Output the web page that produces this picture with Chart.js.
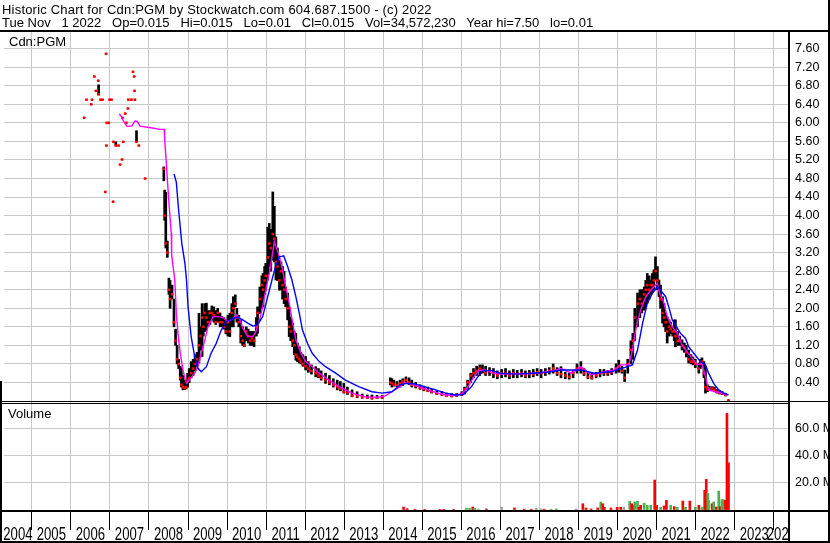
<!DOCTYPE html>
<html>
<head>
<meta charset="utf-8">
<script src="https://cdn.jsdelivr.net/npm/chart.js@4"></script>
<style>
  html, body { margin: 0; padding: 0; background: #fff; }
  #wrap { position: relative; width: 830px; height: 543px; }
  #hdr {
    position: absolute; left: 2px; top: 2.5px; z-index: 2;
    font: 13px "Liberation Sans", Arial, sans-serif; line-height: 13.5px;
    white-space: pre; color: #000;
  }
  #hdr .l1 { letter-spacing: 0.2px; }
  canvas { position: absolute; left: 0; top: 0; }
</style>
</head>
<body>
<div id="wrap">
<div id="hdr"><span class="l1">Historic Chart for Cdn:PGM by Stockwatch.com 604.687.1500 - (c) 2022</span>
Tue Nov   1 2022   Op=0.015   Hi=0.015   Lo=0.01   Cl=0.015   Vol=34,572,230   Year hi=7.50   lo=0.01</div>
<canvas id="chart" width="830" height="543"></canvas>
</div>
<script>
// year ticks along the bottom
const yearTicks = [2004, 2005, 2006, 2007, 2008, 2009, 2010, 2011, 2012, 2013, 2014,
  2015, 2016, 2017, 2018, 2019, 2020, 2021, 2022, 2023, 2024];

// daily-ish price bars (dates as decimal years)
const priceDates = [
  2006.34, 2006.40, 2006.52, 2006.54, 2006.60, 2006.64, 2006.70, 2006.71, 2006.76, 2006.81,
  2006.88, 2006.90, 2006.91, 2006.92, 2006.97, 2006.99, 2007.04, 2007.08, 2007.09, 2007.15,
  2007.22, 2007.26, 2007.31, 2007.32, 2007.34, 2007.39, 2007.42, 2007.46, 2007.47, 2007.55,
  2007.59, 2007.62, 2007.63, 2007.64, 2007.68, 2007.74, 2007.90,
  2008.38, 2008.40, 2008.43, 2008.47, 2008.51, 2008.54, 2008.59, 2008.64, 2008.68, 2008.72,
  2008.76, 2008.80, 2008.83, 2008.87, 2008.91, 2008.95, 2008.99, 2009.03, 2009.08, 2009.13,
  2009.18, 2009.23, 2009.28, 2009.32, 2009.36, 2009.39, 2009.43, 2009.47, 2009.51, 2009.56,
  2009.61, 2009.66, 2009.71, 2009.76, 2009.82, 2009.87, 2009.92, 2009.97, 2010.02, 2010.07,
  2010.12, 2010.16, 2010.21, 2010.25, 2010.30, 2010.35, 2010.40, 2010.44, 2010.49, 2010.54,
  2010.59, 2010.64, 2010.69, 2010.75, 2010.78, 2010.84, 2010.89, 2010.92, 2010.96, 2010.99,
  2011.04, 2011.08, 2011.12, 2011.17, 2011.21, 2011.25, 2011.29, 2011.34, 2011.38, 2011.42,
  2011.46, 2011.50, 2011.55, 2011.59, 2011.63, 2011.68, 2011.72, 2011.76, 2011.80, 2011.85,
  2011.89, 2011.94, 2012.01, 2012.08, 2012.16, 2012.27, 2012.34, 2012.41, 2012.52, 2012.62,
  2012.72, 2012.82, 2012.90, 2012.99, 2013.08, 2013.20, 2013.33, 2013.46, 2013.59, 2013.71,
  2013.84, 2013.97,
  2014.18, 2014.22, 2014.27, 2014.35, 2014.43, 2014.50, 2014.58, 2014.66, 2014.73, 2014.83,
  2014.94, 2015.04, 2015.14, 2015.24, 2015.37, 2015.50, 2015.62, 2015.75, 2015.88, 2016.01,
  2016.08, 2016.16, 2016.24, 2016.31, 2016.39, 2016.47, 2016.54, 2016.62, 2016.72, 2016.82,
  2016.92, 2017.03, 2017.13, 2017.23, 2017.33, 2017.43, 2017.54, 2017.64, 2017.74, 2017.84,
  2017.94, 2018.04, 2018.15, 2018.25, 2018.35, 2018.45, 2018.55, 2018.66, 2018.76, 2018.86,
  2018.96, 2019.06, 2019.14, 2019.24, 2019.34, 2019.45, 2019.55, 2019.65, 2019.75, 2019.85,
  2019.96, 2020.03, 2020.11, 2020.18, 2020.26, 2020.34, 2020.39, 2020.44, 2020.51, 2020.57,
  2020.62, 2020.68, 2020.72, 2020.76, 2020.81, 2020.85, 2020.89, 2020.93, 2020.97, 2021.02,
  2021.06, 2021.10, 2021.15, 2021.19, 2021.23, 2021.27, 2021.32, 2021.36, 2021.41, 2021.45,
  2021.48, 2021.54, 2021.59, 2021.65, 2021.71, 2021.76, 2021.82, 2021.88, 2021.93, 2021.99,
  2022.08, 2022.12, 2022.16, 2022.21, 2022.25, 2022.30, 2022.35, 2022.42, 2022.48, 2022.54,
  2022.61, 2022.68, 2022.76, 2022.84
];
const priceLow = [
  6.11, 6.50, 6.40, 6.50, 7.00, 6.69, 6.91, 6.60, 6.50, 6.50,
  4.51, 7.49, 5.51, 6.00, 6.00, 6.50, 6.50, 4.30, 5.59, 5.51,
  5.51, 5.10, 5.21, 6.11, 5.59, 6.20, 6.00, 6.31, 6.50, 6.50,
  7.10, 7.00, 6.69, 6.50, 5.59, 5.51, 4.80,
  4.75, 3.90, 3.30, 3.10, 2.30, 2.00, 2.20, 1.60, 1.20, 0.80,
  0.70, 0.45, 0.30, 0.24, 0.25, 0.26, 0.30, 0.40, 0.50, 0.55,
  0.65, 0.75, 0.82, 1.10, 0.96, 1.40, 1.50, 1.53, 1.60, 1.65,
  1.75, 1.70, 1.65, 1.70, 1.60, 1.60, 1.55, 1.45, 1.40, 1.39,
  1.60, 1.60, 2.03, 1.70, 1.60, 1.25, 1.20, 1.17, 1.30, 1.25,
  1.20, 1.20, 1.17, 1.40, 1.46, 1.89, 2.00, 2.03, 2.30, 2.39,
  2.61, 2.90, 2.80, 3.04, 3.00, 2.61, 2.60, 2.39, 2.40, 2.20,
  2.10, 2.03, 1.75, 1.39, 1.30, 1.17, 1.00, 0.88, 0.85, 0.82,
  0.80, 0.75, 0.67, 0.62, 0.58, 0.52, 0.50, 0.45, 0.38, 0.35,
  0.30, 0.24, 0.22, 0.17, 0.14, 0.09, 0.07, 0.06, 0.05, 0.04,
  0.05, 0.05,
  0.35, 0.30, 0.32, 0.30, 0.30, 0.33, 0.38, 0.35, 0.30, 0.28,
  0.25, 0.22, 0.20, 0.17, 0.14, 0.12, 0.10, 0.09, 0.10, 0.12,
  0.15, 0.25, 0.40, 0.50, 0.55, 0.55, 0.60, 0.55, 0.55, 0.50,
  0.48, 0.50, 0.52, 0.48, 0.50, 0.50, 0.52, 0.50, 0.50, 0.52,
  0.55, 0.50, 0.55, 0.58, 0.60, 0.55, 0.50, 0.48, 0.47, 0.50,
  0.60, 0.60, 0.55, 0.48, 0.47, 0.50, 0.52, 0.55, 0.55, 0.57,
  0.60, 0.62, 0.60, 0.42, 0.60, 0.80, 0.90, 1.30, 1.60, 1.80,
  1.90, 1.96, 2.00, 2.11, 2.20, 2.30, 2.35, 2.39, 2.61, 2.40,
  2.25, 2.00, 1.68, 1.60, 1.50, 1.25, 1.40, 1.45, 1.40, 1.30,
  1.17, 1.20, 1.20, 1.10, 1.05, 0.95, 0.82, 0.80, 0.78, 0.72,
  0.60, 0.70, 0.74, 0.50, 0.17, 0.20, 0.22, 0.24, 0.20, 0.17,
  0.15, 0.14, 0.11, 0.01
];
const priceHigh = [
  6.11, 6.50, 6.40, 6.50, 7.00, 6.69, 6.91, 6.82, 6.50, 6.50,
  4.51, 7.49, 5.51, 6.00, 6.00, 6.50, 6.50, 4.30, 5.59, 5.59,
  5.51, 5.10, 5.21, 6.11, 5.59, 6.20, 6.00, 6.31, 6.50, 6.50,
  7.10, 7.00, 6.69, 6.50, 5.83, 5.51, 4.80,
  5.05, 4.55, 4.50, 3.45, 2.65, 2.60, 2.50, 2.20, 1.55, 1.20,
  0.90, 0.75, 0.70, 0.55, 0.45, 0.45, 0.60, 0.70, 0.85, 0.90,
  1.00, 1.05, 1.89, 1.60, 2.10, 1.90, 2.10, 2.11, 1.95, 1.95,
  2.05, 2.03, 1.95, 2.00, 1.90, 1.82, 1.80, 1.75, 1.85, 1.89,
  2.10, 2.25, 2.29, 2.00, 1.85, 1.75, 1.60, 1.53, 1.60, 1.55,
  1.50, 1.50, 1.50, 1.80, 2.03, 2.46, 2.70, 2.75, 2.90, 2.97,
  3.75, 3.83, 3.70, 4.51, 4.20, 3.54, 3.30, 3.04, 3.00, 2.90,
  2.80, 2.46, 2.33, 2.03, 1.80, 1.68, 1.50, 1.46, 1.25, 1.17,
  1.05, 1.00, 0.96, 0.85, 0.78, 0.74, 0.70, 0.65, 0.60, 0.55,
  0.48, 0.45, 0.42, 0.38, 0.30, 0.24, 0.20, 0.15, 0.13, 0.13,
  0.12, 0.12,
  0.50, 0.48, 0.45, 0.42, 0.45, 0.48, 0.52, 0.50, 0.45, 0.40,
  0.35, 0.32, 0.30, 0.25, 0.22, 0.20, 0.17, 0.16, 0.16, 0.20,
  0.30, 0.45, 0.60, 0.70, 0.75, 0.78, 0.78, 0.75, 0.72, 0.70,
  0.65, 0.68, 0.70, 0.65, 0.68, 0.66, 0.68, 0.65, 0.66, 0.68,
  0.70, 0.68, 0.70, 0.72, 0.80, 0.72, 0.74, 0.62, 0.60, 0.65,
  0.80, 0.85, 0.70, 0.62, 0.60, 0.62, 0.68, 0.68, 0.66, 0.70,
  0.80, 0.88, 0.75, 0.67, 0.90, 1.30, 1.46, 2.00, 2.33, 2.40,
  2.40, 2.46, 2.60, 2.75, 2.70, 2.60, 2.75, 2.83, 3.11, 2.90,
  2.61, 2.50, 2.25, 2.10, 1.90, 1.82, 1.75, 1.70, 1.60, 1.75,
  1.75, 1.50, 1.40, 1.32, 1.25, 1.20, 1.10, 1.00, 0.95, 0.90,
  0.82, 0.90, 0.93, 0.85, 0.74, 0.35, 0.32, 0.31, 0.30, 0.25,
  0.22, 0.20, 0.17, 0.015
];
const priceClose = [
  6.11, 6.50, 6.40, 6.50, 7.00, 6.69, 6.91, 6.62, 6.50, 6.50,
  4.51, 7.49, 5.51, 6.00, 6.00, 6.50, 6.50, 4.30, 5.59, 5.51,
  5.51, 5.10, 5.21, 6.11, 5.59, 6.20, 6.00, 6.31, 6.50, 6.50,
  7.10, 7.00, 6.69, 6.50, 5.59, 5.51, 4.80,
  5.01, 4.00, 3.40, 3.20, 2.40, 2.20, 2.30, 1.70, 1.30, 0.90,
  0.80, 0.50, 0.35, 0.30, 0.28, 0.30, 0.45, 0.50, 0.60, 0.70,
  0.80, 0.90, 1.20, 1.40, 1.80, 1.60, 1.90, 1.80, 1.70, 1.90,
  1.90, 1.85, 1.70, 1.90, 1.70, 1.70, 1.60, 1.50, 1.70, 1.50,
  1.90, 2.00, 2.10, 1.80, 1.70, 1.40, 1.30, 1.20, 1.50, 1.40,
  1.30, 1.35, 1.30, 1.60, 1.90, 2.20, 2.50, 2.40, 2.60, 2.70,
  3.10, 3.40, 3.30, 3.60, 3.50, 3.00, 2.90, 2.60, 2.80, 2.50,
  2.40, 2.20, 2.00, 1.60, 1.50, 1.30, 1.20, 1.00, 0.95, 0.90,
  0.85, 0.80, 0.75, 0.70, 0.65, 0.60, 0.55, 0.50, 0.45, 0.40,
  0.35, 0.30, 0.26, 0.20, 0.18, 0.12, 0.10, 0.08, 0.07, 0.06,
  0.07, 0.08,
  0.40, 0.38, 0.35, 0.35, 0.38, 0.42, 0.45, 0.40, 0.35, 0.32,
  0.28, 0.25, 0.22, 0.20, 0.16, 0.14, 0.12, 0.11, 0.12, 0.15,
  0.25, 0.40, 0.55, 0.60, 0.65, 0.70, 0.65, 0.60, 0.65, 0.60,
  0.55, 0.60, 0.60, 0.55, 0.60, 0.58, 0.60, 0.55, 0.60, 0.58,
  0.62, 0.60, 0.62, 0.65, 0.70, 0.60, 0.58, 0.55, 0.52, 0.60,
  0.70, 0.70, 0.60, 0.52, 0.50, 0.55, 0.60, 0.60, 0.60, 0.62,
  0.70, 0.75, 0.65, 0.50, 0.80, 1.10, 1.30, 1.80, 2.10, 2.20,
  2.10, 2.30, 2.40, 2.50, 2.40, 2.50, 2.50, 2.60, 2.80, 2.60,
  2.40, 2.20, 1.90, 1.80, 1.70, 1.50, 1.60, 1.55, 1.50, 1.50,
  1.40, 1.30, 1.30, 1.20, 1.15, 1.05, 0.90, 0.85, 0.85, 0.80,
  0.70, 0.80, 0.85, 0.60, 0.30, 0.25, 0.25, 0.27, 0.24, 0.20,
  0.18, 0.16, 0.13, 0.015
];

// moving averages (magenta short, blue long)
const maShortDates = [
  2007.24, 2007.30, 2007.34, 2007.43, 2007.56, 2007.64, 2007.70, 2007.77, 2008.01, 2008.28,
  2008.39, 2008.40, 2008.42, 2008.45, 2008.47, 2008.50, 2008.53, 2008.57, 2008.58, 2008.66,
  2008.70, 2008.75, 2008.80, 2008.87, 2008.93, 2008.96, 2009.04, 2009.17, 2009.25, 2009.34,
  2009.43, 2009.51, 2009.64, 2009.76, 2009.89, 2010.02, 2010.15, 2010.25, 2010.33, 2010.40,
  2010.53, 2010.66, 2010.74, 2010.83, 2010.91, 2010.99, 2011.08, 2011.15, 2011.21, 2011.25,
  2011.34, 2011.42, 2011.50, 2011.59, 2011.68, 2011.76, 2011.89, 2012.01, 2012.18, 2012.36,
  2012.61, 2012.87, 2013.20, 2013.54, 2013.88, 2014.05, 2014.22, 2014.43, 2014.55, 2014.75,
  2014.95, 2015.15, 2015.40, 2015.60, 2015.80, 2016.00, 2016.15, 2016.30, 2016.45, 2016.60,
  2016.80, 2017.00, 2017.30, 2017.60, 2017.90, 2018.20, 2018.38, 2018.55, 2018.81, 2019.06,
  2019.32, 2019.65, 2019.91, 2020.08, 2020.29, 2020.38, 2020.46, 2020.59, 2020.72, 2020.85,
  2020.93, 2021.02, 2021.08, 2021.19, 2021.27, 2021.40, 2021.53, 2021.65, 2021.78, 2021.91,
  2022.04, 2022.16, 2022.25, 2022.33, 2022.50, 2022.67, 2022.80
];
const maShort = [
  6.19, 6.13, 6.05, 5.93, 5.93, 6.04, 6.03, 5.93, 5.90, 5.86,
  5.86, 5.67, 5.42, 5.06, 4.77, 4.41, 4.06, 3.62, 3.15, 2.61,
  1.89, 1.39, 1.03, 0.67, 0.45, 0.38, 0.47, 0.60, 0.74, 1.03,
  1.32, 1.60, 1.82, 1.82, 1.80, 1.71, 1.78, 1.86, 1.75, 1.57,
  1.39, 1.39, 1.50, 1.75, 2.03, 2.39, 2.75, 3.11, 3.44, 3.33,
  3.11, 2.83, 2.47, 2.11, 1.68, 1.32, 1.03, 0.85, 0.74, 0.60,
  0.45, 0.31, 0.17, 0.09, 0.08, 0.11, 0.20, 0.31, 0.40, 0.36,
  0.30, 0.24, 0.17, 0.13, 0.12, 0.15, 0.28, 0.50, 0.66, 0.67,
  0.60, 0.58, 0.59, 0.58, 0.60, 0.63, 0.66, 0.70, 0.60, 0.74,
  0.56, 0.63, 0.67, 0.78, 0.78, 1.10, 1.53, 1.96, 2.25, 2.39,
  2.47, 2.54, 2.32, 2.11, 1.82, 1.60, 1.46, 1.21, 1.06, 0.92,
  0.78, 0.81, 0.52, 0.24, 0.20, 0.17, 0.13
];
const maLongDates = [
  2008.64, 2008.70, 2008.75, 2008.80, 2008.84, 2008.92, 2008.96, 2009.00, 2009.08, 2009.17,
  2009.25, 2009.34, 2009.47, 2009.59, 2009.72, 2009.85, 2009.98, 2010.15, 2010.27, 2010.40,
  2010.53, 2010.66, 2010.78, 2010.91, 2011.04, 2011.17, 2011.25, 2011.34, 2011.45, 2011.55,
  2011.66, 2011.76, 2011.85, 2011.93, 2012.06, 2012.18, 2012.36, 2012.52, 2012.78, 2013.03,
  2013.37, 2013.71, 2013.97, 2014.22, 2014.43, 2014.60, 2014.80, 2015.00, 2015.30, 2015.60,
  2015.85, 2016.05, 2016.25, 2016.40, 2016.55, 2016.75, 2017.00, 2017.40, 2017.80, 2018.20,
  2018.55, 2019.06, 2019.40, 2019.83, 2020.25, 2020.38, 2020.51, 2020.64, 2020.76, 2020.89,
  2021.02, 2021.10, 2021.23, 2021.31, 2021.40, 2021.48, 2021.61, 2021.74, 2021.82, 2021.95,
  2022.12, 2022.25, 2022.33, 2022.46, 2022.59, 2022.71, 2022.84
];
const maLong = [
  4.90, 4.72, 4.20, 3.75, 3.40, 2.97, 2.61, 2.03, 1.39, 0.96,
  0.71, 0.63, 0.74, 1.03, 1.24, 1.53, 1.71, 1.78, 1.81, 1.75,
  1.68, 1.62, 1.64, 1.82, 2.25, 2.68, 2.93, 3.11, 3.13, 2.90,
  2.61, 2.25, 1.89, 1.53, 1.24, 1.03, 0.85, 0.74, 0.60, 0.45,
  0.31, 0.20, 0.17, 0.20, 0.35, 0.38, 0.37, 0.32, 0.25, 0.17,
  0.13, 0.14, 0.30, 0.50, 0.65, 0.66, 0.60, 0.58, 0.60, 0.62,
  0.67, 0.67, 0.60, 0.63, 0.74, 0.78, 1.10, 1.68, 2.11, 2.32,
  2.47, 2.39, 2.25, 2.03, 1.75, 1.64, 1.46, 1.35, 1.17, 1.03,
  0.85, 0.78, 0.60, 0.38, 0.24, 0.17, 0.13
];

// volume in millions of shares, with direction of the day
const volDates = [
  2014.52, 2014.61, 2014.81, 2015.06, 2015.45, 2015.55, 2015.80, 2016.13, 2016.21, 2016.29,
  2016.34, 2016.43, 2016.64, 2017.03, 2017.36, 2017.61, 2017.79, 2017.92, 2018.04, 2018.12,
  2018.30, 2018.43, 2018.94, 2019.11, 2019.19, 2019.32, 2019.49, 2019.57, 2019.62, 2019.66,
  2019.83, 2019.99, 2020.08, 2020.16, 2020.31, 2020.36, 2020.40, 2020.44, 2020.51, 2020.55,
  2020.59, 2020.68, 2020.76, 2020.85, 2020.95, 2021.00, 2021.10, 2021.19, 2021.25, 2021.36,
  2021.45, 2021.53, 2021.67, 2021.74, 2021.85, 2021.99, 2022.08, 2022.16, 2022.23, 2022.27,
  2022.31, 2022.33, 2022.42, 2022.46, 2022.53, 2022.59, 2022.63, 2022.67, 2022.71, 2022.76,
  2022.80, 2022.84
];
const volume = [
  2.2, 1.0, 0.5, 0.5, 0.5, 0.5, 0.5, 1.3, 1.3, 2.2,
  1.2, 0.8, 0.8, 2.0, 1.5, 0.6, 0.6, 1.2, 0.8, 0.6,
  0.6, 0.8, 0.8, 4.6, 1.5, 0.8, 1.5, 5.9, 4.6, 2.0,
  1.5, 2.0, 2.0, 2.0, 6.4, 4.6, 3.4, 5.9, 6.4, 2.0,
  3.4, 5.0, 3.4, 3.4, 22.0, 3.4, 2.0, 3.0, 7.1, 3.4,
  2.5, 2.0, 6.6, 2.0, 6.6, 2.0, 3.4, 2.0, 14.4, 22.5,
  12.0, 7.1, 4.6, 5.9, 2.2, 13.9, 2.5, 7.6, 7.6, 7.1,
  71.0, 34.6
];
const volDir = [
  'dn', 'dn', 'dn', 'dn', 'dn', 'dn', 'dn', 'up', 'up', 'dn',
  'up', 'eq', 'dn', 'eq', 'dn', 'dn', 'dn', 'eq', 'eq', 'dn',
  'up', 'up', 'eq', 'dn', 'dn', 'dn', 'dn', 'up', 'dn', 'dn',
  'dn', 'dn', 'dn', 'eq', 'up', 'dn', 'dn', 'up', 'up', 'dn',
  'dn', 'up', 'up', 'up', 'dn', 'dn', 'up', 'dn', 'dn', 'up',
  'dn', 'up', 'dn', 'up', 'dn', 'up', 'dn', 'up', 'dn', 'dn',
  'up', 'up', 'dn', 'up', 'dn', 'up', 'dn', 'up', 'up', 'dn',
  'dn', 'dn'
];

const xMin = 2004.287, xMax = 2024.389;
const GRID = '#c8c8c8';
const dirColor = { up: '#4caf50', dn: '#ff0000', eq: '#a0a0a0' };
const sans = '"Liberation Sans", Arial, sans-serif';

const frame = {
  id: 'frame',
  afterDraw(chart) {
    const ctx = chart.ctx, a = chart.chartArea, xs = chart.scales.x;
    const py = chart.scales.y, vy = chart.scales.yv;
    const W = chart.width, H = chart.height;
    ctx.save();
    // year labels, centred on the visible part of each year
    ctx.fillStyle = '#000';
    ctx.font = '17.5px ' + sans;
    ctx.textAlign = 'center';
    ctx.textBaseline = 'alphabetic';
    yearTicks.forEach(yr => {
      const l = Math.max(a.left, xs.getPixelForValue(yr));
      const r = Math.min(a.right, xs.getPixelForValue(yr + 1));
      if (r <= l) return;
      ctx.save();
      ctx.translate((l + r) / 2, H - 3);
      ctx.scale(0.75, 1);
      ctx.fillText(String(yr), 0, 0);
      ctx.restore();
    });
    // blank out the year strip under the axis column
    ctx.fillStyle = '#fff';
    ctx.fillRect(a.right, a.bottom, W - a.right, H - a.bottom);
    ctx.fillStyle = '#000';
    ctx.fillRect(0, 30, W, 2);                       // header rule
    ctx.fillRect(0, py.bottom, W, 1);                // double rule between panels
    ctx.fillRect(0, py.bottom + 2, a.right, 1);
    ctx.fillRect(0, a.bottom, W, 2);                 // bottom of volume panel
    ctx.fillRect(a.right - 1, 32, 2, H - 32);        // axis column rule
    ctx.fillRect(W - 2, 0, 2, H);                    // outer border
    ctx.fillRect(0, H - 2, W, 2);
    ctx.fillRect(0, py.bottom - 20, 2, H - py.bottom + 20);
    ctx.font = '13px ' + sans;
    ctx.textAlign = 'left';
    ctx.fillText('Cdn:PGM', 9, a.top + 14);
    ctx.fillText('Volume', 8, vy.top + 17);
    ctx.restore();
  }
};

new Chart(document.getElementById('chart'), {
  type: 'bar',
  data: {
    datasets: [
      {
        type: 'line',
        label: 'MA short',
        data: maShortDates.map((d, i) => ({ x: d, y: maShort[i] })),
        yAxisID: 'y',
        borderColor: '#ff00ff',
        borderWidth: 1.4,
        pointRadius: 0,
        order: 2
      },
      {
        type: 'line',
        label: 'MA long',
        data: maLongDates.map((d, i) => ({ x: d, y: maLong[i] })),
        yAxisID: 'y',
        borderColor: '#0000ff',
        borderWidth: 1.4,
        pointRadius: 0,
        order: 1
      },
      {
        type: 'line',
        label: 'Close',
        data: priceDates.map((d, i) => ({ x: d, y: priceClose[i] })),
        yAxisID: 'y',
        showLine: false,
        pointStyle: 'rect',
        pointRadius: 1.8,
        pointBorderWidth: 0,
        pointBackgroundColor: '#ff0000',
        order: 3
      },
      {
        type: 'bar',
        label: 'Range',
        data: priceDates.map((d, i) => ({ x: d, y: [priceLow[i], priceHigh[i]] })),
        yAxisID: 'y',
        backgroundColor: '#000',
        barThickness: 2,
        grouped: false,
        order: 4
      },
      {
        type: 'bar',
        label: 'Volume',
        data: volDates.map((d, i) => ({ x: d, y: volume[i] })),
        yAxisID: 'yv',
        backgroundColor: volDir.map(k => dirColor[k]),
        barThickness: 2,
        grouped: false,
        order: 5
      }
    ]
  },
  options: {
    responsive: false,
    animation: false,
    devicePixelRatio: 1,
    events: [],
    layout: { padding: { top: 32, left: 0, right: 0, bottom: 0 } },
    plugins: { legend: { display: false }, tooltip: { enabled: false } },
    scales: {
      x: {
        type: 'linear',
        position: 'bottom',
        min: xMin,
        max: xMax,
        offset: false,
        border: { display: false },
        grid: { color: GRID, offset: false, drawTicks: true, tickLength: 20, tickColor: '#000', tickWidth: 1 },
        afterBuildTicks: s => { s.ticks = yearTicks.map(v => ({ value: v })); },
        afterFit: s => { s.height = 33; s.paddingLeft = 0; s.paddingRight = 0; },
        ticks: { autoSkip: false, maxRotation: 0, minRotation: 0, callback: () => '' }
      },
      y: {
        position: 'right',
        stack: 'main',
        stackWeight: 369,
        min: 0,
        max: 7.96,
        border: { display: false },
        grid: { color: GRID, drawTicks: false },
        afterFit: s => { s.width = 41; s.paddingTop = 0; s.paddingBottom = 0; },
        ticks: {
          autoSkip: false, stepSize: 0.4, includeBounds: false, padding: 6, color: '#000',
          font: { family: sans, size: 12.5 },
          callback: v => (v === 0 ? '' : v.toFixed(2))
        }
      },
      yv: {
        position: 'right',
        stack: 'main',
        stackWeight: 109,
        min: 0,
        max: 80,
        border: { display: false },
        grid: { color: GRID, drawTicks: false },
        afterFit: s => { s.width = 41; s.paddingTop = 0; s.paddingBottom = 0; },
        ticks: {
          autoSkip: false, stepSize: 20, padding: 6, color: '#000',
          font: { family: sans, size: 12.5 },
          callback: v => (v === 0 || v >= 80 ? '' : v.toFixed(1) + ' M')
        }
      }
    }
  },
  plugins: [frame]
});
</script>
</body>
</html>
